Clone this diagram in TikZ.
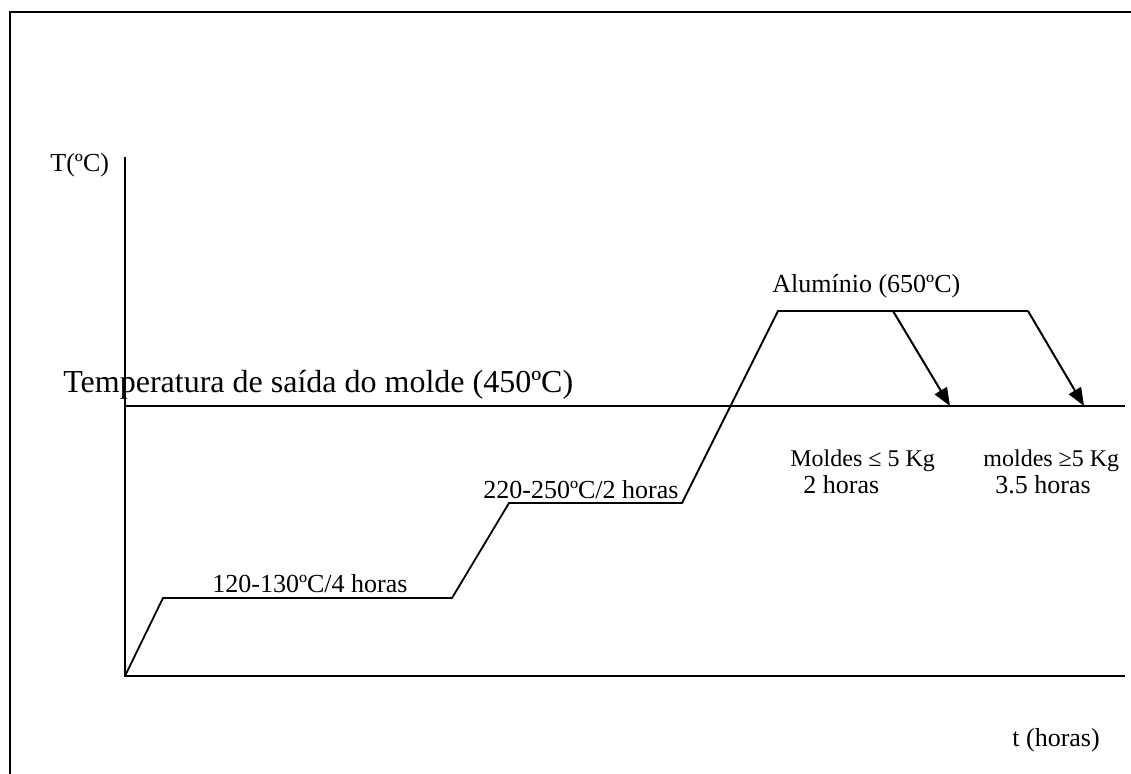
\documentclass[tikz,border=0pt]{standalone}
\usepackage{fontspec}
\setmainfont{Liberation Serif}
\usetikzlibrary{arrows.meta}

\tikzset{
    lbl/.style={inner sep=0pt, anchor=base west, font=\fontsize{13}{15}\selectfont},
    biglbl/.style={lbl, font=\fontsize{16}{18}\selectfont},
    smalllbl/.style={lbl, font=\fontsize{12}{14}\selectfont},
    curve/.style={line width=0.9pt},
    cooling/.style={line width=1pt, -{Triangle[length=9pt,width=7pt]}}
}

\begin{document}
\begin{tikzpicture}[x=0.5pt, y=-0.5pt]
        \useasboundingbox (0,0) rectangle (1131,774);
        % frame
            \draw [line width=1pt] (9.5,774) -- (9.5,12) -- (1131,12);
        % axes
            \coordinate (o) at (125,676);
            \coordinate (ytop) at (125,157);
            \coordinate (xend) at (1125,676);
            \draw [curve] (ytop) -- (o) -- (xend);
        % exit temperature line
            \coordinate (sa) at (125,406);
            \coordinate (sb) at (1125,406);
            \draw [curve] (sa) -- (sb);
        % heating profile
            \coordinate (p1) at (163,598);
            \coordinate (p2) at (452,598);
            \coordinate (p3) at (509,503);
            \coordinate (p4) at (682,503);
            \coordinate (p5) at (778,311);
            \coordinate (p6) at (1028,311);
            \draw [curve] (o) -- (p1) -- (p2) -- (p3) -- (p4) -- (p5) -- (p6);
        % cooling arrows
            \coordinate (c1) at (893,311);
            \coordinate (e1) at (950,406);
            \coordinate (e2) at (1084,406);
            \draw [cooling] (c1) -- (e1);
            \draw [cooling] (p6) -- (e2);
        % labels
            \node[lbl] (tlab) at (50,172) {T(ºC)};
            \node[biglbl] (saida) at (63,393) {Temperatura de saída do molde (450ºC)};
            \node[lbl] (st1) at (212,593) {120-130ºC/4 horas};
            \node[lbl] (st2) at (483,499) {220-250ºC/2 horas};
            \node[lbl] (alu) at (772,293) {Alumínio (650ºC)};
            \node[smalllbl] (m1) at (790,467) {Moldes ≤ 5 Kg};
            \node[lbl] (h1) at (803,494) {2 horas};
            \node[smalllbl] (m2) at (983,467) {moldes ≥5 Kg};
            \node[lbl] (h2) at (995,494) {3.5 horas};
            \node[lbl] (hlab) at (1012,747) {t (horas)};
    \end{tikzpicture}
\end{document}
